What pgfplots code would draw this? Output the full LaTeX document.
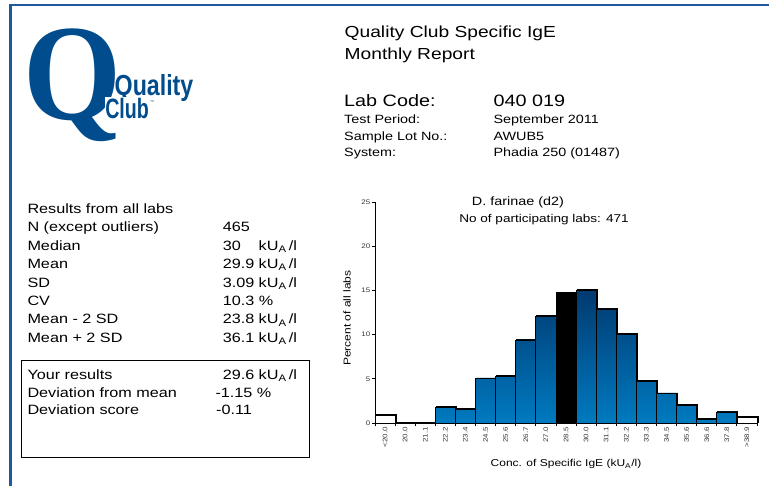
\documentclass[border=0pt]{standalone}
\usepackage{fontspec}
\setmainfont{Liberation Sans}[FakeStretch=1.2]
\newfontfamily\qfont{Liberation Serif}
\newfontfamily\logofont{Liberation Sans}
\usepackage{graphicx}
\usepackage{pgfplots}
\usepackage{pgfplotstable}
\usetikzlibrary{shadows}
\pgfplotsset{compat=1.18}
\definecolor{qblue}{RGB}{0,76,140}
\definecolor{frameblue}{RGB}{30,90,155}
\definecolor{bartop}{RGB}{0,58,112}
\definecolor{barbot}{RGB}{0,122,192}
\newcommand{\fs}[1]{\fontsize{#1}{#1}\selectfont}
\newcommand{\kua}{kU\textsubscript{A}\,/l}

\pgfplotstableread{
x y
0 0.9
18 0.6
}\tabouter
\pgfplotstableread{
x y
1 0
2 0
3 1.8
4 1.5
5 5.0
6 5.3
7 9.4
8 12.1
10 15.0
11 12.9
12 10.0
13 4.7
14 3.3
15 2.0
16 0.45
17 1.25
}\tabmid
\pgfplotstableread{
x y
9 14.8
}\tabown

\begin{document}
\begin{tikzpicture}[x=1pt,y=-1pt]
\useasboundingbox (0,0) rectangle (769,486);
% frame
\draw[frameblue, line width=2.2pt] (9.4,5) -- (769,5);
\draw[frameblue, line width=2.2pt] (10.5,3.9) -- (10.5,486);
% logo
\node[anchor=base west, inner sep=0, text=qblue] at (23.5,119.5) {\scalebox{0.92}[1]{\qfont\bfseries\fs{137}Q}};
\node[anchor=base west, inner sep=0, text=qblue] at (114.5,96) {\scalebox{0.8}[1]{\logofont\bfseries\fs{29}Quality}};
\node[anchor=base west, inner sep=0.6pt, text=qblue, fill=white] at (104.5,118.3) {\scalebox{0.7}[1]{\logofont\bfseries\fs{28}Club}};
\node[anchor=base west, inner sep=0, text=qblue] at (150,104) {\logofont\fs{4}™};
% header
\node[anchor=base west, inner sep=0] at (344.5,37.5) {\fs{16}Quality Club Specific IgE};
\node[anchor=base west, inner sep=0] at (344.5,59.5) {\fs{16}Monthly Report};
\node[anchor=base west, inner sep=0] at (344,106.7) {\fs{16.5}Lab Code:};
\node[anchor=base west, inner sep=0] at (493.3,106.7) {\fs{16.5}040 019};
\node[anchor=base west, inner sep=0] at (344,124) {\fs{12}Test Period:};
\node[anchor=base west, inner sep=0] at (493.3,124) {\fs{12}September 2011};
\node[anchor=base west, inner sep=0] at (344,140.3) {\fs{12}Sample Lot No.:};
\node[anchor=base west, inner sep=0] at (493.3,140.3) {\fs{12}AWUB5};
\node[anchor=base west, inner sep=0] at (344,156.7) {\fs{12}System:};
\node[anchor=base west, inner sep=0] at (493.3,156.7) {\fs{12}Phadia 250 (01487)};
% left table
\begin{scope}[every node/.style={anchor=base west, inner sep=0, font=\fs{13.5}}]
\node at (27.3,213.3) {Results from all labs};
\node at (27.3,232.0) {N (except outliers)};
\node at (222.7,232.0) {465};
\node at (27.3,250.4) {Median};
\node at (222.7,250.4) {30};
\node at (258.5,250.4) {\kua};
\node at (27.3,268.8) {Mean};
\node at (222.7,268.8) {29.9};
\node at (258.5,268.8) {\kua};
\node at (27.3,287.2) {SD};
\node at (222.7,287.2) {3.09};
\node at (258.5,287.2) {\kua};
\node at (27.3,305.6) {CV};
\node at (222.7,305.6) {10.3 \%};
\node at (27.3,324.0) {Mean - 2 SD};
\node at (222.7,324.0) {23.8};
\node at (258.5,324.0) {\kua};
\node at (27.3,342.4) {Mean + 2 SD};
\node at (222.7,342.4) {36.1};
\node at (258.5,342.4) {\kua};
\node at (27.3,379.5) {Your results};
\node at (222.7,379.5) {29.6};
\node at (258.5,379.5) {\kua};
\node at (27.3,397.3) {Deviation from mean};
\node at (215.3,397.3) {-1.15 \%};
\node at (27.3,415.0) {Deviation score};
\node at (216,415.0) {-0.11};
\end{scope}
\draw[black, line width=1pt] (21.8,360.8) rectangle (309.3,457.3);
% chart
\begin{axis}[
  at={(375pt,-423pt)}, anchor=south west,
  scale only axis, width=382pt, height=221pt,
  xmin=-0.5, xmax=18.5, ymin=0, ymax=25,
  axis x line=bottom, axis y line=left,
  axis line style={-}, 
  x axis line style={line width=1.4pt},
  y axis line style={line width=0.9pt},
  tick align=outside,
  ytick={0,5,...,25},
  major tick length=3pt, minor tick length=3pt,
  xtick={0,...,18},
  xticklabels={{<20.0},20.0,21.1,22.2,23.4,24.5,25.6,26.7,27.0,28.5,30.0,31.1,32.2,33.3,34.5,35.6,36.6,37.8,{>38.9}},
  minor xtick={-0.5,0.5,...,18.5},
  major x tick style={draw=none},
  minor x tick style={black, line width=0.8pt},
  y tick style={black, line width=0.8pt},
  xticklabel style={rotate=90, anchor=east, font=\fs{6.6}, text=black!80, inner sep=1pt},
  yticklabel style={font=\fs{6.6}, text=black!80, inner sep=1.5pt},
  /pgf/number format/assume math mode=true,
  ylabel={Percent of all labs},
  ylabel style={font=\fs{11.2}},
  every axis y label/.style={at={(axis description cs:-0.073,0.475)}, rotate=90, anchor=center},
  xlabel={Conc. of Specific IgE (kU\textsubscript{A}/l)},
  xlabel style={font=\fs{10.3}},
  every axis x label/.style={at={(axis description cs:0.5,-0.198)}, anchor=base},
  clip=false,
]
\addplot[ybar, bar width=1, bar shift=0pt, draw=black, line width=0.8pt, fill=white,
  drop shadow={shadow xshift=0.9pt, shadow yshift=0.9pt, fill=black!45, opacity=1}] table[x=x,y=y] {\tabouter};
\addplot[ybar, bar width=1, bar shift=0pt, draw=black, line width=0.8pt, top color=bartop, bottom color=barbot,
  drop shadow={shadow xshift=0.9pt, shadow yshift=0.9pt, fill=black!45, opacity=1}] table[x=x,y=y] {\tabmid};
\addplot[ybar, bar width=1, bar shift=0pt, draw=black, line width=0.8pt, fill=black] table[x=x,y=y] {\tabown};
\end{axis}
\node[anchor=base, inner sep=0] at (518,205.7) {\fs{12}D. farinae (d2)};
\node[anchor=base, inner sep=0] at (544,222.3) {\fs{11.3}No of participating labs: 471};
\end{tikzpicture}
\end{document}
